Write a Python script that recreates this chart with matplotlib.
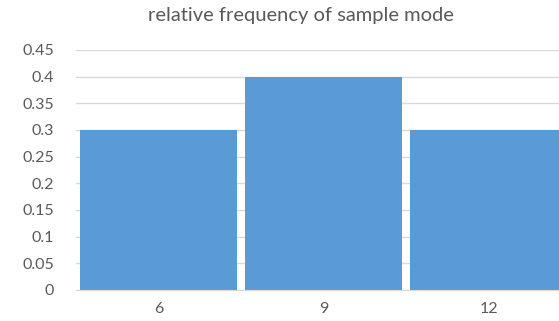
import matplotlib
matplotlib.use('Agg')
from matplotlib import pyplot as plt
import numpy as np

categories = ['6', '9', '12']
rel_freq = [0.3, 0.4, 0.3]
yticks = [0, 0.05, 0.1, 0.15, 0.2, 0.25, 0.3, 0.35, 0.4, 0.45]
ytick_labels = ['0', '0.05', '0.1', '0.15', '0.2', '0.25', '0.3', '0.35', '0.4', '0.45']

plt.rcParams['font.family'] = ['Lato', 'DejaVu Sans']

fig = plt.figure(figsize=(5.59, 3.21), dpi=100)
# plot area runs past the right edge, as in the cropped original
ax = fig.add_axes([0.136, 0.0966, 0.8855, 0.7477])

x = np.arange(len(categories))
ax.bar(x, rel_freq, width=0.95, color='#5B9BD5', zorder=3)

ax.set_xlim(-0.5, len(categories) - 0.5)
ax.set_ylim(0, 0.45)
ax.set_xticks(x)
ax.set_xticklabels(categories)
ax.set_yticks(yticks)
ax.set_yticklabels(ytick_labels)
ax.tick_params(length=0, colors='#595959', labelsize=11.5)
ax.tick_params(axis='x', pad=9)
ax.tick_params(axis='y', pad=16)
ax.grid(axis='y', color='#D9D9D9', linewidth=1, zorder=0)
for s in ['top', 'right', 'left']:
    ax.spines[s].set_visible(False)
ax.spines['bottom'].set_color('#D9D9D9')
ax.spines['bottom'].set_zorder(4)

fig.text(0.538, 0.953, 'relative frequency of sample mode', ha='center', va='center',
         fontsize=14.5, color='#595959')

plt.savefig('out.png', dpi=100)
plt.close()
